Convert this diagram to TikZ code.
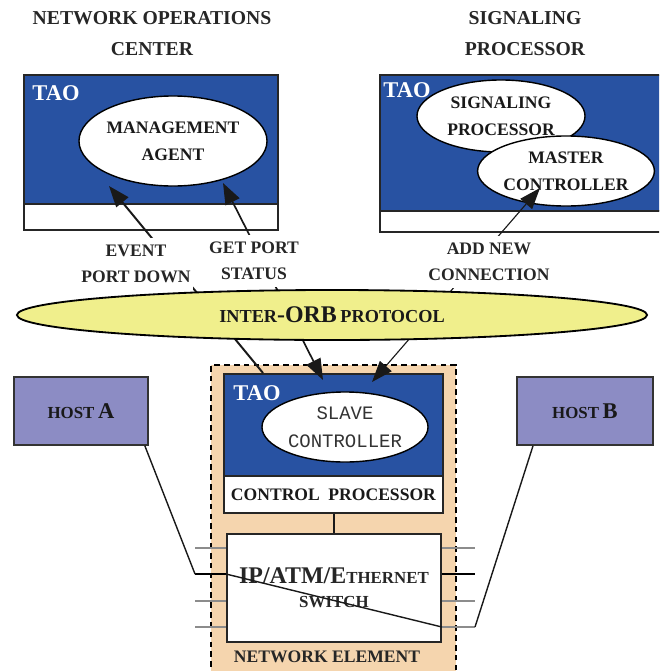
\documentclass[tikz,border=0pt]{standalone}
\usepackage{fontspec}
\setmainfont{Liberation Serif}
\setmonofont{Liberation Mono}
\usetikzlibrary{arrows.meta,calc,shapes.geometric}
\definecolor{taoblue}{HTML}{2852A2}
\definecolor{nepeach}{HTML}{F5D5AE}
\definecolor{orbyellow}{HTML}{F0EF8C}
\definecolor{hostpurple}{HTML}{8C8CC4}
\newcommand{\fsz}[1]{\fontsize{#1}{#1}\selectfont}
\tikzset{
  taobox/.style={draw=black!85, line width=1.3pt, fill=taoblue, inner sep=0pt, anchor=north west},
  strip/.style={draw=black!85, line width=1.3pt, fill=white, inner sep=0pt, anchor=north west},
  agent/.style={ellipse, draw=black, line width=1pt, fill=white, inner sep=0pt, align=center,
    text=black!90, font=\bfseries\fontsize{12.5}{19}\selectfont},
  taolbl/.style={text=white, font=\bfseries\fsz{16}, inner sep=0pt},
  hdr/.style={align=center, text=black!85, font=\bfseries\fontsize{14}{22}\selectfont},
  msg/.style={fill=white, align=center, inner xsep=2pt, inner ysep=5pt, text=black!85,
    font=\bfseries\fontsize{12.5}{18.5}\selectfont},
  host/.style={draw=black!80, line width=1.3pt, fill=hostpurple, anchor=north west, inner sep=0pt,
    text=black!90, font=\bfseries},
  onetip/.style={-{Triangle[length=15pt,width=11pt]}},
  twotips/.style={{Triangle[length=15pt,width=11pt]}-{Triangle[length=15pt,width=11pt]}},
  port/.style={line width=0.8pt, black!45},
  wire/.style={line width=1pt, black!90}
}
\begin{document}
\begin{tikzpicture}[x=0.025cm, y=-0.025cm]
\useasboundingbox (0,0) rectangle (659,671);
\clip (0,0) rectangle (659,671);

% network element
\node [anchor=north west, fill=nepeach, draw=black, line width=1.4pt, dash pattern=on 4pt off 3pt,
  minimum width=6.125cm, minimum height=7.9cm, inner sep=0pt] (ne) at (210,364) {};

% network operations center
\node [hdr] (hdrnoc) at (152,34) {NETWORK OPERATIONS\\CENTER};
\node [taobox, minimum width=6.35cm, minimum height=3.225cm] (tao1) at (23,74) {};
\node [strip, minimum width=6.35cm, minimum height=0.65cm] (strip1) at (23,203) {};
\node [taolbl] (taolbl1) at (56,93) {TAO};
\node [agent, minimum width=4.7cm, minimum height=2.25cm] (mgmt) at (173,141) {MANAGEMENT\\AGENT};

% signaling processor
\node [hdr] (hdrsp) at (525,34) {SIGNALING\\PROCESSOR};
\node [taobox, minimum width=7.4cm, minimum height=3.4cm] (tao2) at (379,74) {};
\node [strip, minimum width=7.4cm, minimum height=0.525cm] (strip2) at (379,210) {};
\node [taolbl] (taolbl2) at (407,90) {TAO};
\node [agent, minimum width=4.2cm, minimum height=1.8cm] (sigproc) at (501,116) {SIGNALING\\PROCESSOR};
\node [agent, minimum width=4.225cm, minimum height=1.75cm] (master) at (566,171) {MASTER\\CONTROLLER};

% control processor
\node [taobox, minimum width=5.475cm, minimum height=2.55cm] (tao3) at (223,373) {};
\node [strip, minimum width=5.475cm, minimum height=0.925cm, text=black!90,
  font=\bfseries\fsz{12.5}] (cp) at (223,475) {CONTROL\hspace{3pt} PROCESSOR};
\node [taolbl] (taolbl3) at (257,393) {TAO};
\node [agent, minimum width=4.15cm, minimum height=1.75cm, font=\ttfamily\fontsize{13.5}{20}\selectfont,
  text=black!80] (slave) at (345,427) {SLAVE\\CONTROLLER};

% switch
\node [anchor=north west, draw=black!85, line width=1.3pt, fill=white, minimum width=5.35cm,
  minimum height=2.7cm, inner sep=0pt, align=center, text=black!85, font=\bfseries]
  (switch) at (226,533) {{\fontsize{17}{20}\selectfont IP/ATM/E}{\fsz{12}THERNET}\\[5pt]{\fsz{12}SWITCH}};
\draw [wire] (cp.south -| 334,0) -- (switch.north -| 334,0);

% hosts
\node [host, minimum width=3.35cm, minimum height=1.7cm] (hosta) at (13,376) {{\fsz{12}HOST} {\fsz{16}A}};
\node [host, minimum width=3.4cm, minimum height=1.7cm] (hostb) at (516,376) {{\fsz{12}HOST} {\fsz{16}B}};

% switch ports
\foreach \py/\pc in {548/black!45,574/black,601/black!45,627/black!45} {
  \draw [port, draw=\pc] (195,\py) -- (switch.west |- 0,\py);
  \draw [port, draw=\pc] (switch.east |- 0,\py) -- (475,\py);
}
\coordinate (pina) at (195,574);
\coordinate (pinb) at (475,627);
\draw [wire] ($(hosta.south east)+(-4,0)$) -- (pina);
\draw [wire] (switch.west |- 0,574) -- (switch.east |- 0,627);
\draw [wire] (pinb) -- ($(hostb.south west)+(17,0)$);

% messages
\coordinate (evtip) at (109,186);
\coordinate (evfoot) at (263,373);
\coordinate (gptip) at (223,183);
\coordinate (gpfoot) at (323,380);
\coordinate (antip) at (540,188);
\coordinate (anfoot) at (372,382);
\draw [onetip, line width=1.4pt, black!90] (evfoot) -- (evtip);
\draw [twotips, line width=1.2pt, black!90] (gpfoot) -- (gptip);
\draw [twotips, line width=0.8pt, black!90] (anfoot) -- (antip);

\node [ellipse, draw=black, line width=1.3pt, fill=orbyellow, minimum width=15.75cm, minimum height=1.25cm,
  inner sep=0pt, text=black!90, font=\bfseries] (iiop) at (332,315)
  {{\fsz{13}INTER}{\fsz{17}-ORB} {\fsz{13}PROTOCOL}};
\node [msg] (evlbl) at (136,264) {EVENT\\PORT DOWN};
\node [msg] (gplbl) at (254,261) {GET PORT\\STATUS};
\node [msg] (anlbl) at (489,262) {ADD NEW\\CONNECTION};

\node [text=black!85, font=\bfseries\fsz{12.5}] (nelbl) at (327,657) {NETWORK ELEMENT};
\end{tikzpicture}
\end{document}
